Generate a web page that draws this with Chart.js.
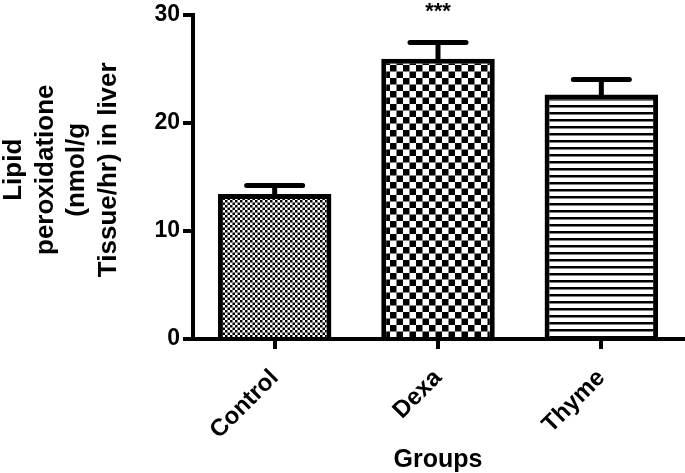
<!DOCTYPE html>
<html>
<head>
<meta charset="utf-8">
<script src="https://cdn.jsdelivr.net/npm/chart.js@4.4.0/dist/chart.umd.min.js"></script>
<style>
  body { margin: 0; background: #fff; }
  #wrap { width: 685px; height: 473px; }
</style>
</head>
<body>
<div id="wrap"><canvas id="chart" width="685" height="473"></canvas></div>
<script>
// values
const groups = ['Control', 'Dexa', 'Thyme'];
const means = [13.4, 25.9, 22.6];
const sem = [0.8, 1.5, 1.4];
const stars = ['', '***', ''];
const yTicks = [0, 10, 20, 30];
const yTitle = ['Lipid', 'peroxidatione', '(nmol/g', 'Tissue/hr) in liver'];

const FONT = '"Liberation Sans", Arial, sans-serif';

// fill patterns for the three bars
function makePattern(kind) {
  let c = document.createElement('canvas');
  let g = c.getContext('2d');
  if (kind == 'fine') {
    c.width = 5; c.height = 5;
    g.fillStyle = '#fff'; g.fillRect(0, 0, 5, 5);
    g.fillStyle = '#000';
    g.fillRect(0, 0, 2.5, 2.5);
    g.fillRect(2.5, 2.5, 2.5, 2.5);
  } else if (kind == 'coarse') {
    c.width = 13; c.height = 13;
    g.fillStyle = '#fff'; g.fillRect(0, 0, 13, 13);
    g.fillStyle = '#000';
    g.fillRect(0, 0, 6.5, 6.5);
    g.fillRect(6.5, 6.5, 6.5, 6.5);
  } else {
    c.width = 7; c.height = 7;
    g.fillStyle = '#fff'; g.fillRect(0, 0, 7, 7);
    g.fillStyle = '#000';
    g.fillRect(0, 0, 7, 2.5);
  }
  return g.createPattern(c, 'repeat');
}
const ctx = document.getElementById('chart').getContext('2d');
const fills = [makePattern('fine'), makePattern('coarse'), makePattern('lines')];

// upper error bars, significance stars and the stacked y title
const extras = {
  id: 'extras',
  afterDatasetsDraw(chart) {
    let c = chart.ctx;
    let y = chart.scales.y;
    let meta = chart.getDatasetMeta(0);
    c.save();
    c.strokeStyle = '#000';
    c.lineWidth = 5;
    c.lineCap = 'round';
    meta.data.forEach((bar, i) => {
      let top = y.getPixelForValue(means[i] + sem[i]);
      let base = y.getPixelForValue(means[i]);
      c.beginPath();
      c.moveTo(bar.x, base);
      c.lineTo(bar.x, top);
      c.stroke();
      c.beginPath();
      c.moveTo(bar.x - 28, top);
      c.lineTo(bar.x + 28, top);
      c.stroke();
      if (stars[i]) {
        c.fillStyle = '#000';
        c.font = 'bold 22px ' + FONT;
        c.textAlign = 'center';
        c.textBaseline = 'alphabetic';
        c.fillText(stars[i], bar.x, 18);
      }
    });
    // y title, one line per entry, rotated
    c.fillStyle = '#000';
    c.font = 'bold 26px ' + FONT;
    c.textAlign = 'center';
    c.textBaseline = 'middle';
    let mid = (y.top + y.bottom) / 2 - 7;
    yTitle.forEach((t, i) => {
      c.save();
      c.translate(14 + i * 31.5, mid);
      c.rotate(-Math.PI / 2);
      c.fillText(t, 0, 0);
      c.restore();
    });
    c.restore();
  }
};

new Chart(ctx, {
  type: 'bar',
  data: {
    labels: groups,
    datasets: [{
      data: means,
      backgroundColor: fills,
      borderColor: '#000',
      borderWidth: 5,
      borderSkipped: 'start',
      categoryPercentage: 1,
      barPercentage: 0.695
    }]
  },
  options: {
    responsive: false,
    animation: false,
    layout: { padding: { top: 13, right: 2, left: 0, bottom: 0 } },
    plugins: { legend: { display: false }, tooltip: { enabled: false } },
    scales: {
      x: {
        afterFit: (s) => { s.height = 134; },
        grid: { display: true, drawOnChartArea: false, offset: false, tickLength: 10, lineWidth: 4, color: '#000' },
        border: { display: true, width: 4, color: '#000' },
        ticks: { color: '#000', font: { family: FONT, size: 24, weight: 'bold' }, minRotation: 45, maxRotation: 45, padding: 15 },
        title: { display: true, text: 'Groups', color: '#000', font: { family: FONT, size: 25, weight: 'bold', lineHeight: 1.0 }, padding: { top: 0, bottom: 0 } }
      },
      y: {
        min: 0,
        max: 30,
        afterFit: (s) => { s.width = 193; },
        afterBuildTicks: (s) => { s.ticks = yTicks.map(v => ({ value: v })); },
        grid: { display: true, drawOnChartArea: false, tickLength: 10, lineWidth: 4, color: '#000' },
        border: { display: true, width: 4, color: '#000' },
        ticks: { color: '#000', font: { family: FONT, size: 23, weight: 'bold', lineHeight: 1.0 }, padding: 3 }
      }
    }
  },
  plugins: [extras]
});
</script>
</body>
</html>
